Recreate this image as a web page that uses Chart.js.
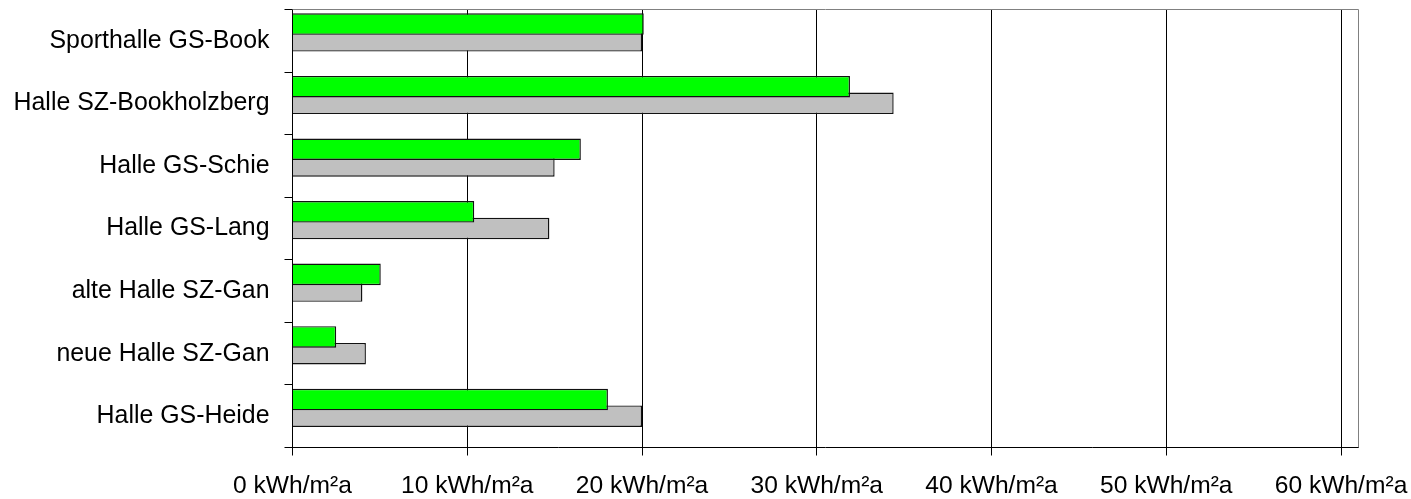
<!DOCTYPE html>
<html lang="de">
<head>
<meta charset="utf-8">
<title>Energiekennwerte Sporthallen</title>
<script src="https://cdn.jsdelivr.net/npm/chart.js@4/dist/chart.umd.min.js"></script>
<style>
  html, body { margin: 0; padding: 0; background: #fff; }
  #wrap { width: 1411px; height: 499px; position: relative; }
</style>
</head>
<body>
<div id="wrap"><canvas id="c"></canvas></div>
<script>
// Sporthallen (top to bottom)
const halls = [
  'Sporthalle GS-Book',
  'Halle SZ-Bookholzberg',
  'Halle GS-Schie',
  'Halle GS-Lang',
  'alte Halle SZ-Gan',
  'neue Halle SZ-Gan',
  'Halle GS-Heide'
];

// Kennwerte in kWh/m²a
const greenValues = [20.1, 31.9, 16.5, 10.4, 5.05, 2.5, 18.05];
const greyValues  = [20.0, 34.4, 15.0, 14.7, 4.0, 4.2, 20.0];

// Achsenbeschriftung
const xTickValues = [0, 10, 20, 30, 40, 50, 60];
const unit = 'kWh/m²a';
const xMax = 61;

const FAMILY = '"Liberation Sans", Arial, Helvetica, sans-serif';

// grey top/right frame of the plot area
const plotFrame = {
  id: 'plotFrame',
  beforeDatasetsDraw(chart) {
    const { ctx, chartArea: a } = chart;
    ctx.save();
    ctx.strokeStyle = '#808080';
    ctx.lineWidth = 1;
    ctx.beginPath();
    ctx.moveTo(a.left, a.top);
    ctx.lineTo(a.right, a.top);
    ctx.lineTo(a.right, a.bottom);
    ctx.stroke();
    ctx.restore();
  }
};

new Chart(document.getElementById('c'), {
  type: 'bar',
  data: {
    labels: halls,
    datasets: [
      {
        data: greenValues,
        backgroundColor: '#00ff00',
        borderColor: '#111111',
        borderWidth: 1.4
      },
      {
        data: greyValues,
        backgroundColor: '#c0c0c0',
        borderColor: '#111111',
        borderWidth: 1.4
      },
      {
        // empty slot below the two bars of each group
        data: halls.map(() => null),
        backgroundColor: 'rgba(0,0,0,0)',
        borderWidth: 0
      }
    ]
  },
  options: {
    indexAxis: 'y',
    responsive: true,
    maintainAspectRatio: false,
    animation: false,
    events: [],
    categoryPercentage: 0.8,
    barPercentage: 1.29,
    layout: { padding: { left: 0, top: 9.5, right: 52.5, bottom: 0 } },
    plugins: {
      legend: { display: false },
      tooltip: { enabled: false },
      title: { display: false }
    },
    scales: {
      x: {
        type: 'linear',
        min: 0,
        max: xMax,
        afterBuildTicks(scale) {
          scale.ticks = xTickValues.map(v => ({ value: v }));
        },
        afterFit(scale) {
          scale.height = 51.5;
          scale.paddingLeft = 0;
          scale.paddingRight = 0;
        },
        ticks: {
          color: '#000',
          font: { family: FAMILY, size: 24.6 },
          padding: 15.5,
          maxRotation: 0,
          autoSkip: false,
          callback: v => `${v} ${unit}`
        },
        grid: {
          color: '#000',
          lineWidth: 1,
          tickLength: 8,
          drawTicks: true
        },
        border: { display: true, color: '#000', width: 1 }
      },
      y: {
        type: 'category',
        offset: true,
        afterFit(scale) {
          scale.width = 292.5;
          scale.paddingTop = 0;
          scale.paddingBottom = 0;
        },
        ticks: {
          color: '#000',
          font: { family: FAMILY, size: 24.9 },
          padding: 15,
          autoSkip: false
        },
        grid: {
          offset: true,
          drawOnChartArea: false,
          drawTicks: true,
          tickLength: 8,
          color: '#000',
          lineWidth: 1
        },
        border: { display: true, color: '#000', width: 1 }
      }
    }
  },
  plugins: [plotFrame]
});
</script>
</body>
</html>
